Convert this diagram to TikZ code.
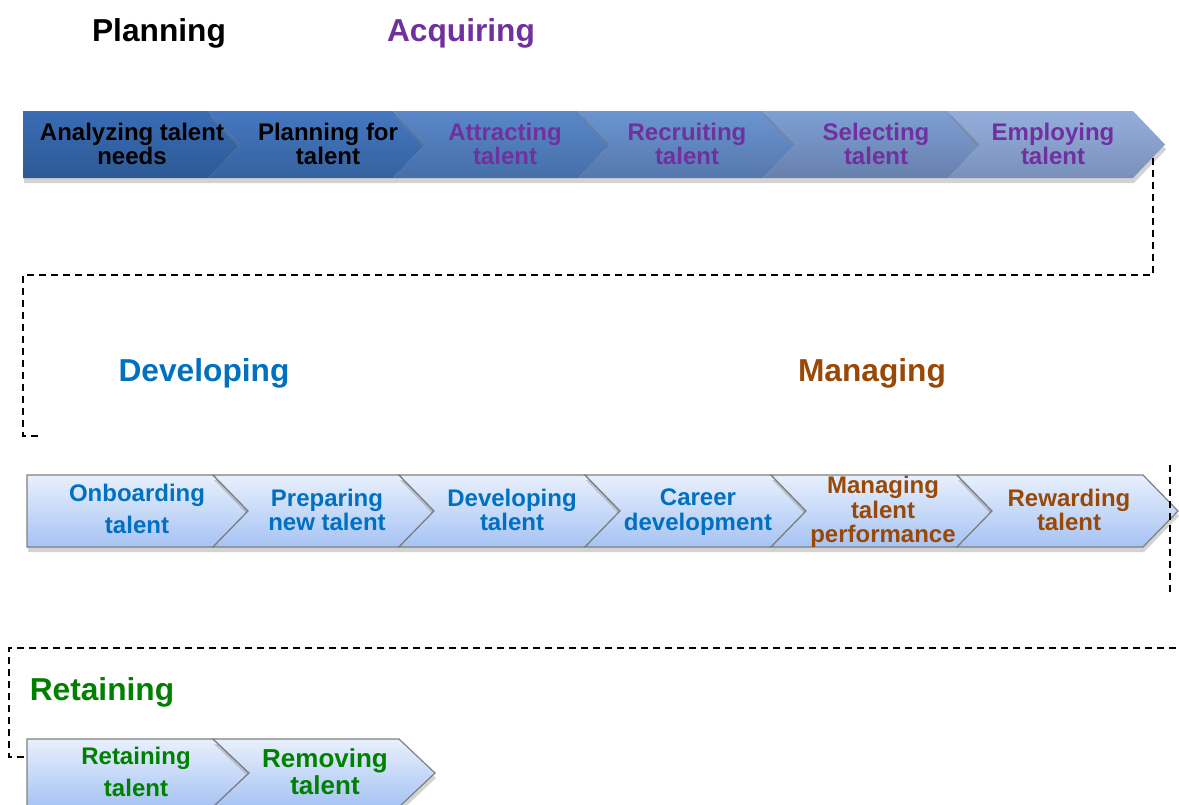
\documentclass[tikz,border=0pt]{standalone}
\usepackage{fontspec}
\setmainfont{Liberation Sans}
\usetikzlibrary{shadows}
\definecolor{purp}{HTML}{7030A0}
\definecolor{devblue}{HTML}{0070C0}
\definecolor{mbrown}{HTML}{984807}
\definecolor{rgreen}{HTML}{008000}
\definecolor{lbtop}{HTML}{E8F0FD}
\definecolor{lbbot}{HTML}{A6C3F3}
\definecolor{edgegray}{HTML}{7F7F7F}
\definecolor{ta}{HTML}{3A6CB4}\definecolor{ba}{HTML}{2D5A95}
\definecolor{tb}{HTML}{4577C0}\definecolor{bb}{HTML}{3562A0}
\definecolor{tc}{HTML}{5A87C8}\definecolor{bc}{HTML}{466FA9}
\definecolor{td}{HTML}{6B95D0}\definecolor{bd}{HTML}{5577AD}
\definecolor{te}{HTML}{7E9FD3}\definecolor{be}{HTML}{6780AE}
\definecolor{tf}{HTML}{94AEDB}\definecolor{bf}{HTML}{7A90BB}
\tikzset{
  heading/.style={font=\fontsize{31.7}{36}\selectfont\bfseries, inner sep=0pt},
  lab/.style={font=\fontsize{24}{24.5}\selectfont\bfseries, align=center, inner sep=0pt},
  darkbox/.style={drop shadow={shadow xshift=1pt, shadow yshift=-5pt, opacity=0.35}},
  lightbox/.style={draw=edgegray, line width=1.2pt, top color=lbtop, bottom color=lbbot,
    drop shadow={shadow xshift=1pt, shadow yshift=-5pt, opacity=0.35}},
  dashline/.style={draw=black, line width=1.8pt, dash pattern=on 7pt off 5pt}
}
% #1 x start, #2 top, #3 bottom, #4 pitch, #5 depth
\newcommand{\firstchev}[5]{%
  (#1,#2) -- ({#1+#4},#2) -- ({#1+#4+#5},{(#2+#3)/2}) -- ({#1+#4},#3) -- (#1,#3) -- cycle}
\newcommand{\midchev}[5]{%
  (#1,#2) -- ({#1+#4},#2) -- ({#1+#4+#5},{(#2+#3)/2}) -- ({#1+#4},#3) -- (#1,#3) -- ({#1+#5},{(#2+#3)/2}) -- cycle}
\begin{document}
\begin{tikzpicture}[x=1pt,y=-1pt]
\useasboundingbox (0,0) rectangle (1179,804);

% ---------- headings ----------
\node[heading, text=black] (hplan) at (159,33) {Planning};
\node[heading, text=purp] (hacq) at (461,33) {Acquiring};
\node[heading, text=devblue] (hdev) at (204,373) {Developing};
\node[heading, text=mbrown] (hman) at (872,373) {Managing};
\node[heading, text=rgreen] (hret) at (102,692) {Retaining};

% ---------- row 1 ----------
\path[darkbox, top color=ta, bottom color=ba] \firstchev{23}{111}{178}{185}{32};
\path[darkbox, top color=tb, bottom color=bb] \midchev{208}{111}{178}{185}{32};
\path[darkbox, top color=tc, bottom color=bc] \midchev{393}{111}{178}{185}{32};
\path[darkbox, top color=td, bottom color=bd] \midchev{578}{111}{178}{185}{32};
\path[darkbox, top color=te, bottom color=be] \midchev{763}{111}{178}{185}{32};
\path[darkbox, top color=tf, bottom color=bf] \midchev{948}{111}{178}{185}{32};

\node[lab, text=black] (a1) at (132,144) {Analyzing talent\\needs};
\node[lab, text=black] (a2) at (328,144) {Planning for\\talent};
\node[lab, text=purp] (a3) at (505,144) {Attracting\\talent};
\node[lab, text=purp] (a4) at (687,144) {Recruiting\\talent};
\node[lab, text=purp] (a5) at (876,144) {Selecting\\talent};
\node[lab, text=purp] (a6) at (1053,144) {Employing\\talent};

% ---------- row 2 ----------
\path[lightbox] \firstchev{27}{475}{547}{186}{35};
\path[lightbox] \midchev{213}{475}{547}{186}{35};
\path[lightbox] \midchev{399}{475}{547}{186}{35};
\path[lightbox] \midchev{585}{475}{547}{186}{35};
\path[lightbox] \midchev{771}{475}{547}{186}{35};
\path[lightbox] \midchev{957}{475}{547}{186}{35};

\node[lab, text=devblue] (b1) at (137,509) {Onboarding\\[8pt]talent};
\node[lab, text=devblue] (b2) at (327,510) {Preparing\\new talent};
\node[lab, text=devblue] (b3) at (512,510) {Developing\\talent};
\node[lab, text=devblue] (b4) at (698,512) {Career\\development};
\node[lab, text=mbrown] (b5) at (883,512) {Managing\\talent\\performance};
\node[lab, text=mbrown] (b6) at (1069,510) {Rewarding\\talent};

% ---------- row 3 ----------
\path[lightbox] \firstchev{27}{739}{807}{186}{36};
\path[lightbox] \midchev{213}{739}{807}{186}{36};

\node[lab, text=rgreen] (c1) at (136,772) {Retaining\\[8pt]talent};
\node[lab, text=rgreen, font=\fontsize{26}{27}\selectfont\bfseries] (c2) at (325,772) {Removing\\talent};

% ---------- dashed connectors ----------
\coordinate (p1) at (1153,158);
\coordinate (p2) at (23,275);
\coordinate (p3) at (42,436);
\draw[dashline] (p1) |- (p2) |- (p3);

\coordinate (q1) at (1170,465);
\coordinate (q2) at (1170,595);
\draw[dashline] (q1) -- (q2);

\coordinate (r1) at (1176,648);
\coordinate (r2) at (9,648);
\coordinate (r3) at (27,757);
\draw[dashline] (r1) -- (r2) |- (r3);
\end{tikzpicture}
\end{document}
